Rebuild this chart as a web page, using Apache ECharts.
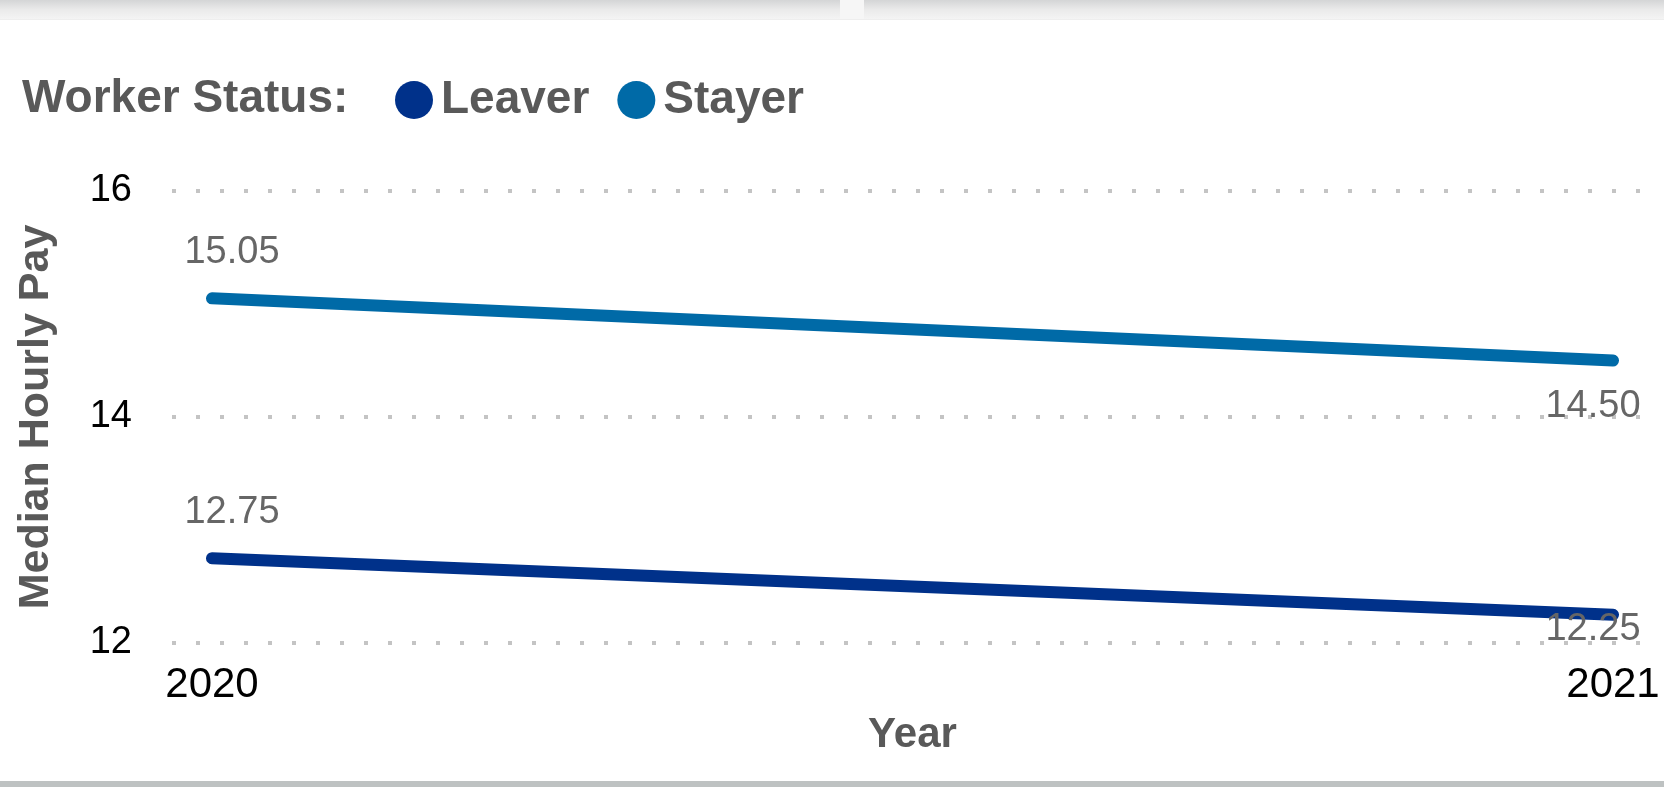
<!DOCTYPE html>
<html>
<head>
<meta charset="utf-8">
<script src="https://cdn.jsdelivr.net/npm/echarts@6/dist/echarts.min.js"></script>
<style>
html,body{margin:0;padding:0;background:#fff;}
#chart{width:1664px;height:787px;}
</style>
</head>
<body>
<div id="chart"></div>
<script>
// ---- data ----
const years = ['2020', '2021'];
const leaverPay = [12.75, 12.25];
const stayerPay = [15.05, 14.50];
const seriesNames = ['Leaver', 'Stayer'];
const legendTitle = 'Worker Status:';
const yAxisName = 'Median Hourly Pay';
const xAxisName = 'Year';
const yMin = 12, yMax = 16, yInterval = 2;

// ---- style ----
const colors = ['#00318A', '#006AA7'];
const FONT = '"Liberation Sans", Arial, sans-serif';
const G = { top: 191, bottom: 144 };
const PLOT_BOTTOM = 787 - G.bottom;

function makeSeries(name, values, color) {
  return {
    name: name,
    type: 'line',
    xAxisIndex: 1,
    yAxisIndex: 1,
    data: values,
    symbol: 'circle',
    symbolSize: 1,
    showSymbol: true,
    itemStyle: { color: color },
    lineStyle: { color: color, width: 12, cap: 'round', join: 'round' },
    label: {
      show: true,
      position: 'inside',
      formatter: p => Number(p.value).toFixed(2),
      fontFamily: FONT,
      fontSize: 38,
      color: '#666666'
    },
    // first point: label above-right; last point: label below-left, kept inside the plot
    labelLayout: function (p) {
      const r = p.labelRect;
      const c = r.y + r.height / 2;
      if (p.dataIndex === 0) return { dx: 20, dy: -46 };
      let dy = 46;
      const maxC = PLOT_BOTTOM - 13;
      if (c + dy > maxC) dy = maxC - c;
      return { dx: -20, dy: dy };
    },
    emphasis: { disabled: true },
    animation: false
  };
}

const chart = echarts.init(document.getElementById('chart'), null, { renderer: 'canvas' });
chart.setOption({
  backgroundColor: '#ffffff',
  animation: false,
  color: colors,
  graphic: [
    {
      type: 'rect', left: 0, top: 0, z: -1,
      shape: { width: 1664, height: 19 },
      style: {
        fill: new echarts.graphic.LinearGradient(0, 0, 0, 1, [
          { offset: 0, color: '#d4d5d6' },
          { offset: 0.5, color: '#eaeaea' },
          { offset: 1, color: '#f4f4f4' }
        ])
      }
    },
    {
      type: 'rect', left: 840, top: 0, z: -1,
      shape: { width: 24, height: 19 },
      style: { fill: '#f6f6f6' }
    },
    {
      type: 'rect', left: 0, top: 19, z: -1,
      shape: { width: 1664, height: 1 },
      style: { fill: '#eeeeee' }
    },
    {
      type: 'rect', left: 0, top: 781, z: -1,
      shape: { width: 1664, height: 6 },
      style: { fill: '#bec2c2' }
    }
  ],
  title: {
    text: legendTitle,
    left: 22, top: 76, padding: 0,
    textStyle: { fontFamily: FONT, fontSize: 46, fontWeight: 'bold', color: '#595959' }
  },
  legend: {
    data: seriesNames,
    left: 395, top: 77, padding: 0,
    icon: 'circle',
    itemWidth: 38, itemHeight: 39,
    itemGap: 28,
    textStyle: { fontFamily: FONT, fontSize: 46, fontWeight: 'bold', color: '#595959', padding: [0, 0, 0, 3] }
  },
  grid: [
    { left: 172, right: 24, top: G.top, bottom: G.bottom, containLabel: false },
    { left: 212, right: 51, top: G.top, bottom: G.bottom, containLabel: false }
  ],
  xAxis: [
    { gridIndex: 0, type: 'category', data: years, show: false },
    {
      gridIndex: 1, type: 'category', data: years, boundaryGap: false,
      axisLine: { show: false }, axisTick: { show: false }, splitLine: { show: false },
      axisLabel: { interval: 0, margin: 21, fontFamily: FONT, fontSize: 42, color: '#000000' },
      name: xAxisName, nameLocation: 'middle', nameGap: 71,
      nameTextStyle: { fontFamily: FONT, fontSize: 42, fontWeight: 'bold', color: '#595959' }
    }
  ],
  yAxis: [
    {
      gridIndex: 0, type: 'value', min: yMin, max: yMax, interval: yInterval,
      axisLine: { show: false }, axisTick: { show: false },
      axisLabel: { margin: 40, fontFamily: FONT, fontSize: 38, color: '#000000' },
      splitLine: { show: true, lineStyle: { color: '#c4c4c4', width: 4, type: [4, 20] } },
      name: yAxisName, nameLocation: 'middle', nameGap: 114,
      nameTextStyle: { fontFamily: FONT, fontSize: 43, fontWeight: 'bold', color: '#595959' }
    },
    {
      gridIndex: 1, type: 'value', min: yMin, max: yMax, interval: yInterval, show: false,
      splitLine: { show: false }
    }
  ],
  series: [
    makeSeries(seriesNames[0], leaverPay, colors[0]),
    makeSeries(seriesNames[1], stayerPay, colors[1])
  ]
});
</script>
</body>
</html>
